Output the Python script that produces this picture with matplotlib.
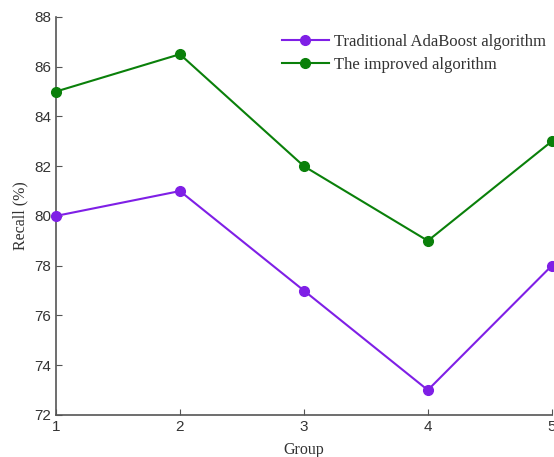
import matplotlib
matplotlib.use('Agg')
import matplotlib.pyplot as plt

groups = [1, 2, 3, 4, 5]
traditional = [80, 81, 77, 73, 78]
improved = [85, 86.5, 82, 79, 83]
y_ticks = [72, 74, 76, 78, 80, 82, 84, 86, 88]

fig = plt.figure(figsize=(5.54, 4.57), dpi=100)
ax = fig.add_axes([0.101, 0.092, 0.895, 0.871])

ax.plot(groups, traditional, color='#7f1fe6', lw=1.5, marker='o', ms=7,
        label='Traditional AdaBoost algorithm', clip_on=False, zorder=3)
ax.plot(groups, improved, color='#0a800a', lw=1.5, marker='o', ms=7,
        label='The improved algorithm', clip_on=False, zorder=3)

ax.set_xlim(1, 5)
ax.set_ylim(72, 88)
ax.set_xticks(groups)
ax.set_yticks(y_ticks)

for s in ['top', 'right']:
    ax.spines[s].set_visible(False)
for s in ['left', 'bottom']:
    ax.spines[s].set_color('#555555')
    ax.spines[s].set_linewidth(1.2)

ax.tick_params(direction='in', length=4, color='#555555', labelsize=11,
               labelcolor='#333333')
for lab in ax.get_xticklabels() + ax.get_yticklabels():
    lab.set_family('Liberation Sans')

ax.set_xlabel('Group', family='Liberation Serif', fontsize=11.5, color='#333333', labelpad=6)
ax.set_ylabel('Recall (%)', family='Liberation Serif', fontsize=11.5, color='#333333', labelpad=4)

leg = ax.legend(loc='upper right', bbox_to_anchor=(1.018, 0.995), frameon=False,
                prop={'family': 'Liberation Serif', 'size': 12},
                handlelength=2.8, handletextpad=0.3, labelspacing=0.4)
for t in leg.get_texts():
    t.set_color('#333333')

fig.savefig('out.png', dpi=100)
